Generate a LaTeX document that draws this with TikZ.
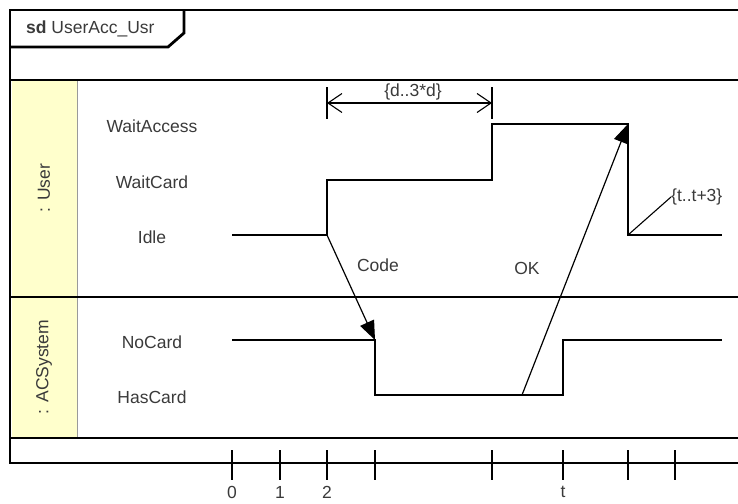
\documentclass[tikz,border=0pt]{standalone}
\usepackage{fontspec}
\setmainfont{Liberation Sans}
\usetikzlibrary{arrows.meta,positioning}
\definecolor{lifeYellow}{HTML}{FFFFCC}
\definecolor{txtGray}{HTML}{3A3A3A}
\definecolor{sepGray}{HTML}{9A9A9A}

\begin{document}
\begin{tikzpicture}[x=1pt, y=-1pt,
    frame/.style={line width=2.8pt},
    stateline/.style={line width=1.4pt},
    lbl/.style={font=\fontsize{17.5}{20}\selectfont, text=txtGray, inner sep=1pt},
    msg/.style={line width=1.2pt, -{Triangle[length=19pt, width=15pt]}},
    tickmark/.style={line width=1.4pt}]
  \useasboundingbox (0,0) rectangle (738,503);
  \fill[lifeYellow] (12,81) rectangle (77,437);
  \draw[sepGray, line width=0.9pt] (77,80) -- (77,438);
  \draw[frame] (738,10) -- (10,10) -- (10,463) -- (738,463);
  \draw[frame] (10,47) -- (168,47) -- (184,33) -- (184,10);
  \foreach \y in {80,297,438}
    \draw[frame] (10,\y) -- (738,\y);
  \node[lbl, anchor=west] (sdName) at (25,29) {\textbf{sd} UserAcc\_Usr};
  \node[lbl, rotate=90] (userLife) at (44,188) {: User};
  \node[lbl, rotate=90] (acLife) at (44,367) {: ACSystem};
  \foreach \name/\y in {WaitAccess/124, WaitCard/180, Idle/235, NoCard/340, HasCard/395}
    \node[lbl] (\name) at (152,\y+2) {\name};
  \draw[stateline] (232,235) -- (327,235) coordinate (codeSend) |- (492,180)
    |- (628,124) coordinate (okRecv) |- (722,235);
  \draw[stateline] (232,340) -- (375,340) coordinate (codeRecv) |- (563,395) |- (722,340);
  \coordinate (okSend) at (522,395);
  \coordinate (idleAgain) at (628,235);
  \draw[msg] (codeSend) -- (codeRecv);
  \draw[msg] (okSend) -- (okRecv);
  \node[lbl] (codeLbl) at (378,265) {Code};
  \node[lbl] (okLbl) at (527,268) {OK};
  \coordinate (durStart) at (327,103);
  \coordinate (durEnd) at (492,103);
  \draw[line width=1.1pt] (327,87) -- (327,119) (492,87) -- (492,119);
  \draw[line width=1.1pt, {Straight Barb[length=14pt, width=19pt]}-{Straight Barb[length=14pt, width=19pt]}]
    (durStart) -- (durEnd);
  \node[lbl] (durLbl) at (413,92) {\{d..3*d\}};
  \node[lbl, anchor=west, inner sep=0pt] (timeLbl) at (671,197) {\{t..t+3\}};
  \draw[line width=1.1pt] (idleAgain) -- (timeLbl.west);
  \foreach \x [count=\i] in {232,280,327,375,492,563,628,675}
    \draw[tickmark] (\x,450) coordinate (tick\i) -- (\x,480);
  \foreach \i/\t in {1/0, 2/1, 3/2, 6/t}
    \node[lbl, below=36pt of tick\i, inner sep=0pt] (axis\i) {\t};
\end{tikzpicture}
\end{document}
